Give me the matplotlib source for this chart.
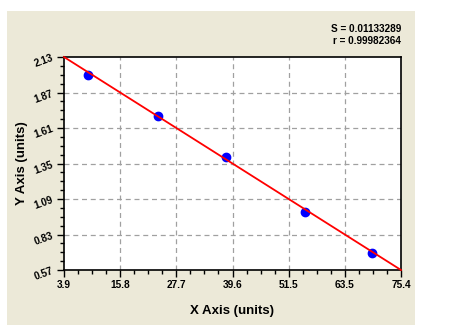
import numpy as np
import matplotlib
matplotlib.use("Agg")
import matplotlib.pyplot as plt
from matplotlib.patches import Rectangle
from matplotlib.ticker import AutoMinorLocator

# data
x_pts = [9.0, 23.8, 38.3, 55.0, 69.2]
y_pts = [1.996, 1.698, 1.395, 0.993, 0.697]
fit_x = [3.9, 75.4]
fit_y = [2.13, 0.57]
x_ticks = [3.9, 15.8, 27.7, 39.6, 51.5, 63.5, 75.4]
x_tick_labels = ["3.9", "15.8", "27.7", "39.6", "51.5", "63.5", "75.4"]
y_ticks = [0.57, 0.83, 1.09, 1.35, 1.61, 1.87, 2.13]
y_tick_labels = ["0.57", "0.83", "1.09", "1.35", "1.61", "1.87", "2.13"]
stats = ["S = 0.01133289", "r = 0.99982364"]

plt.rcParams['font.family'] = ['Liberation Sans', 'DejaVu Sans']

W, H = 458, 325
fig = plt.figure(figsize=(W / 100, H / 100), dpi=100, facecolor='white')
fig.patches.append(Rectangle((7 / W, 0), (415 - 7) / W, (325 - 11) / H,
                             transform=fig.transFigure, facecolor='#ECE9D8',
                             edgecolor='none', zorder=-10))

ax = fig.add_axes([64 / W, (H - 270) / H, (401 - 64) / W, (270 - 57) / H], zorder=5)
ax.set_facecolor('white')
ax.set_xlim(fit_x[0], fit_x[1])
ax.set_ylim(min(y_ticks), max(y_ticks))

# x tick positions evenly spaced as in reference
xpos = np.linspace(fit_x[0], fit_x[1], len(x_ticks))
ax.set_xticks(xpos)
ax.set_xticklabels(x_tick_labels, fontsize=7.3, fontweight='bold')
ax.set_yticks(y_ticks)
ax.set_yticklabels(y_tick_labels, fontsize=7.3, fontweight='bold', rotation=20)
ax.xaxis.set_minor_locator(AutoMinorLocator(4))
ax.yaxis.set_minor_locator(AutoMinorLocator(4))
ax.tick_params(which='major', direction='out', length=5, width=1, color='black', pad=2)
ax.tick_params(which='minor', direction='out', length=3, width=1, color='black')

for v in xpos[1:-1]:
    ax.axvline(v, color='#A0A0A0', linestyle=(0, (4, 3)), linewidth=0.9, zorder=1)
for v in y_ticks[1:-1]:
    ax.axhline(v, color='#A0A0A0', linestyle=(0, (4, 3)), linewidth=0.9, zorder=1)

for s in ax.spines.values():
    s.set_linewidth(1.2)
    s.set_color('black')

ax.plot(x_pts, y_pts, 'o', color='#0000FF', markersize=6, zorder=3)
ax.plot(fit_x, fit_y, color='#FF0000', linewidth=1.3, zorder=4, clip_on=False)

ax.set_xlabel("X Axis (units)", fontsize=9.5, fontweight='bold', labelpad=11)
ax.set_ylabel("Y Axis (units)", fontsize=9.5, fontweight='bold', labelpad=3)

fig.text(401 / W, 1 - 29 / H, stats[0], ha='right', va='center', fontsize=7.2, fontweight='bold')
fig.text(401 / W, 1 - 41 / H, stats[1], ha='right', va='center', fontsize=7.2, fontweight='bold')

fig.savefig("out.png", dpi=100, facecolor='white')
